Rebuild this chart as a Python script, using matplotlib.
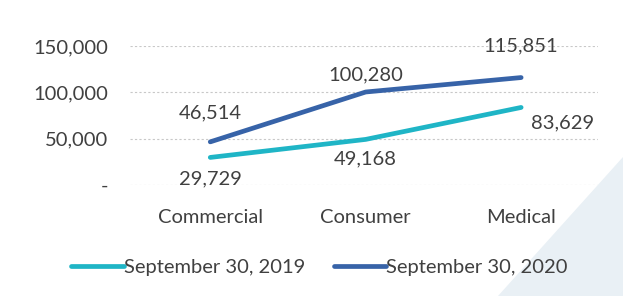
import matplotlib
matplotlib.use("Agg")
import matplotlib.pyplot as plt
from matplotlib.patches import Polygon

categories = ["Commercial", "Consumer", "Medical"]
series_names = ["September 30, 2019", "September 30, 2020"]
values_2019 = [29729, 49168, 83629]
values_2020 = [46514, 100280, 115851]
y_ticks = [0, 50000, 100000, 150000]
y_tick_labels = ["-", "50,000", "100,000", "150,000"]

plt.rcParams['font.family'] = ['Lato', 'DejaVu Sans']
text_color = "#404040"
c2019 = "#1fb5c6"
c2020 = "#3763a8"

fig = plt.figure(figsize=(6.23, 2.96), dpi=100)
fig.patch.set_facecolor("white")
# faint scanned watermark triangle in the lower right
fig.patches.append(Polygon([(1.0, 0.47), (1.0, 0.0), (0.80, 0.0)], closed=True,
                           transform=fig.transFigure, facecolor="#e9f0f5",
                           edgecolor="none", zorder=0))

ax = fig.add_axes([0.209, 0.375, 0.751, 0.47])
ax.set_facecolor("none")
x = list(range(len(categories)))
ax.plot(x, values_2019, color=c2019, lw=3.4, solid_capstyle="round", label=series_names[0], zorder=3)
ax.plot(x, values_2020, color=c2020, lw=3.4, solid_capstyle="round", label=series_names[1], zorder=3)

fs = 14.5
ax.set_xlim(-0.515, 2.495)
ax.set_ylim(0, 150000)
ax.set_yticks(y_ticks)
ax.set_yticklabels(y_tick_labels)
ax.set_xticks(x)
ax.set_xticklabels(categories)
ax.tick_params(axis="both", length=0, labelsize=fs, colors=text_color)
ax.tick_params(axis="y", pad=16)
ax.tick_params(axis="x", pad=17)
for s in ax.spines.values():
    s.set_visible(False)
ax.grid(axis="y", color="#c8c8c8", lw=0.8, linestyle=(0, (2, 2)))
ax.set_axisbelow(True)

# 2019 labels
ax.annotate(f"{values_2019[0]:,}", (x[0], values_2019[0]), xytext=(0, -21), textcoords="offset pixels",
            ha="center", va="center", fontsize=fs, color=text_color)
ax.annotate(f"{values_2019[1]:,}", (x[1], values_2019[1]), xytext=(0, -19), textcoords="offset pixels",
            ha="center", va="center", fontsize=fs, color=text_color)
ax.annotate(f"{values_2019[2]:,}", (x[2], values_2019[2]), xytext=(41, -15), textcoords="offset pixels",
            ha="center", va="center", fontsize=fs, color=text_color)
# 2020 labels
ax.annotate(f"{values_2020[0]:,}", (x[0], values_2020[0]), xytext=(0, 29), textcoords="offset pixels",
            ha="center", va="center", fontsize=fs, color=text_color)
ax.annotate(f"{values_2020[1]:,}", (x[1], values_2020[1]), xytext=(0, 17), textcoords="offset pixels",
            ha="center", va="center", fontsize=fs, color=text_color)
ax.annotate(f"{values_2020[2]:,}", (x[2], values_2020[2]), xytext=(0, 32), textcoords="offset pixels",
            ha="center", va="center", fontsize=fs, color=text_color)

leg = fig.legend(loc="center", bbox_to_anchor=(0.513, 0.095), ncol=2, frameon=False,
                 fontsize=fs, handlelength=2.6, handletextpad=0.0, columnspacing=1.45,
                 labelcolor=text_color)

fig.savefig("out.png", dpi=100, facecolor="white")
